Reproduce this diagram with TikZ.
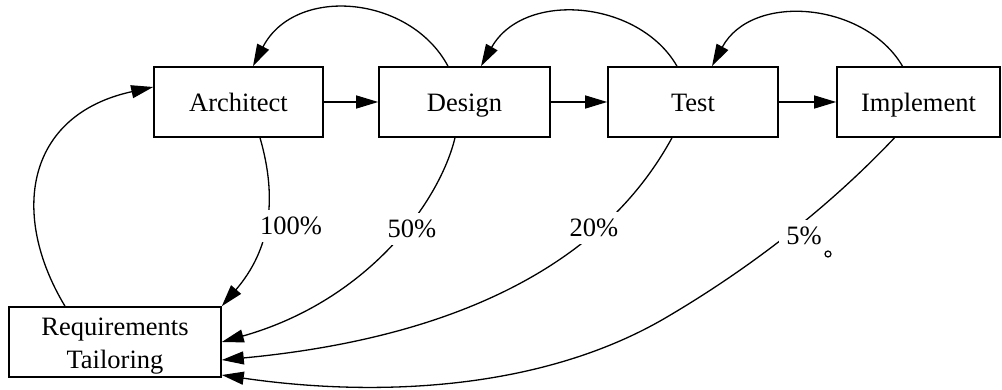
\documentclass[tikz,border=0pt]{standalone}
\usepackage{fontspec}
\setmainfont{Liberation Serif}
\usetikzlibrary{arrows.meta}
\newcommand{\lowerline}[1]{\raisebox{-4pt}[\height][\depth]{#1}}
\begin{document}
\begin{tikzpicture}[x=1pt,y=-1pt,
  box/.style={draw, line width=1.6pt, minimum height=70pt, inner sep=0pt,
    font=\fontsize{26.5}{33}\selectfont, align=center},
  stage/.style={box, text height=19pt, text depth=0pt},
  link/.style={line width=1.3pt, -{Triangle[length=22pt,width=13pt]}},
  pct/.style={fill=white, inner sep=7pt, anchor=base,
    font=\fontsize{26.5}{33}\selectfont}
]
\useasboundingbox (0,0) rectangle (1002,390);

% process stages
\node[stage, minimum width=169pt] (arch) at (238.5,102) {Architect};
\node[stage, minimum width=171pt] (des)  at (464.5,102) {Design};
\node[stage, minimum width=170pt] (test) at (693,102)   {Test};
\node[stage, minimum width=163pt] (impl) at (918.5,102) {Implement};
\node[box, minimum width=212pt] (req)  at (115,342)   {\lowerline{Requirements}\\\lowerline{Tailoring}};

% forward flow
\draw[link] (arch.east) -- (des.west);
\draw[link] (des.east)  -- (test.west);
\draw[link] (test.east) -- (impl.west);

% feedback arcs over the top
\draw[link] ([xshift=-16.5pt]des.north) .. controls (410,-5) and (295,-15) .. ([xshift=14.5pt]arch.north);
\draw[link] ([xshift=-16pt]test.north) .. controls (639,0) and (524,-10) .. ([xshift=16.5pt]des.north);
\draw[link] ([xshift=-16pt]impl.north) .. controls (865,2) and (752,-8) .. ([xshift=19pt]test.north);

% tailoring feeds the architecture
\draw[link] ([xshift=-50pt]req.north) .. controls (10,215) and (25,115) .. ([yshift=15pt]arch.west);

% rework returning to tailoring
\draw[link] ([xshift=21.5pt]arch.south) .. controls (278,200) and (270,250) .. (req.north east);
\draw[link] ([xshift=-9.5pt]des.south) .. controls (440,200) and (370,300) .. (req.east);
\draw[link] ([xshift=-21pt]test.south) .. controls (635,205) and (540,330) .. ([yshift=-18pt]req.east);
\coordinate (m5) at (667,317);
\draw[link] ([xshift=-24pt]impl.south) .. controls (830,206) and (752,267) .. (m5)
  .. controls (540,392) and (372,397) .. ([yshift=-33pt]req.east);

% percentages
\node[pct] (p100) at (291,235) {100\%};
\node[pct] (p50)  at (412,238) {50\%};
\node[pct] (p20)  at (594,237) {20\%};
\node[pct] (p5)   at (804,245) {5\%};
\draw[line width=1.2pt] (828,254) circle[radius=3pt];
\end{tikzpicture}
\end{document}
